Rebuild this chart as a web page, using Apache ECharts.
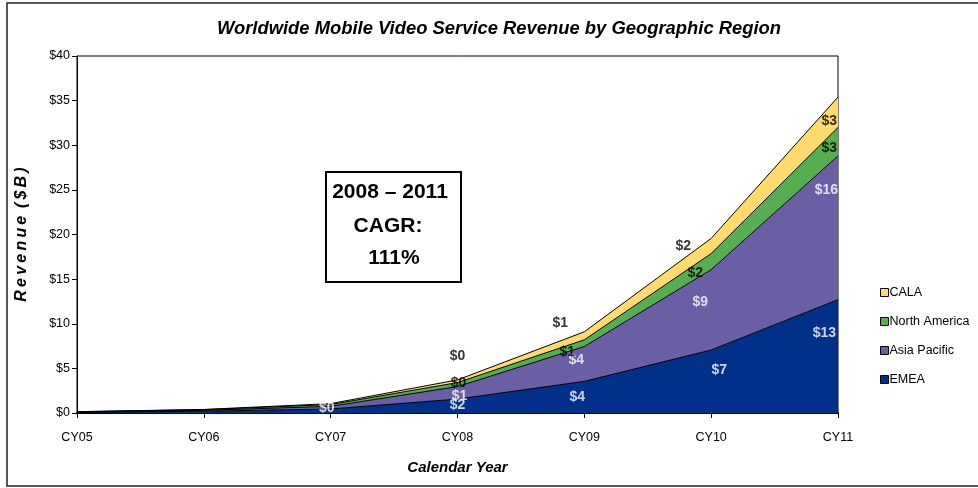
<!DOCTYPE html>
<html>
<head>
<meta charset="utf-8">
<script src="https://cdn.jsdelivr.net/npm/echarts@6/dist/echarts.min.js"></script>
<style>
  html, body { margin: 0; padding: 0; background: #fff; }
  #chart { width: 978px; height: 488px; }
</style>
</head>
<body>
<div id="chart"></div>
<script>
// revenue, $B
const categories = ['CY05', 'CY06', 'CY07', 'CY08', 'CY09', 'CY10', 'CY11']
const emea = [0.08, 0.2, 0.45, 1.56, 3.55, 7.06, 12.7]
const asiaPacific = [0.04, 0.1, 0.3, 1.4, 3.9, 9.0, 16.1]
const northAmerica = [0.02, 0.07, 0.2, 0.45, 0.75, 1.8, 3.2]
const cala = [0.01, 0.03, 0.1, 0.3, 0.9, 1.7, 3.4]
const yTicks = [0, 5, 10, 15, 20, 25, 30, 35, 40]

// label nudges [dx, dy] from band centre, null = no label
const emeaShift = [null, null, [-4, -3], [0, -1], [-7, 0], [8, -11], [-2, -23]]
const apShift = [null, null, null, [2, 3], [-8, -4], [-11, -8], [0, -38]]
const naShift = [null, null, null, [1, -1], [-17, 9], [-16, 12], [-1, 6]]
const calaShift = [null, null, null, [0, -25], [-24, -13], [-28, 0], [-1, 9]]

const FONT = "'Liberation Sans', Arial, sans-serif"

const layers = [
  { name: 'EMEA', data: emea, color: '#00308a', text: '#fff', shift: emeaShift },
  { name: 'Asia Pacific', data: asiaPacific, color: '#6a5ea4', text: '#fff', shift: apShift },
  { name: 'North America', data: northAmerica, color: '#55af50', text: '#000', shift: naShift },
  { name: 'CALA', data: cala, color: '#fedb6c', text: '#000', shift: calaShift },
]

const chart = echarts.init(document.getElementById('chart'))

const areaSeries = layers.map(l => ({
  name: l.name,
  type: 'line',
  stack: 'rev',
  data: l.data,
  symbol: 'none',
  lineStyle: { color: '#000', width: 1 },
  itemStyle: { color: l.color, borderColor: '#000' },
  areaStyle: { color: l.color, opacity: 1 },
  z: 2,
}))

// data labels sit in the middle of each band
const base = categories.map(() => 0)
const labelSeries = layers.map(l => {
  const pts = []
  l.data.forEach((v, i) => {
    const s = l.shift[i]
    const mid = base[i] + v / 2
    base[i] += v
    if (!s) return
    const last = i === categories.length - 1
    pts.push({
      value: [i, mid],
      raw: v,
      label: {
        offset: s,
        align: last ? 'right' : 'center',
      },
    })
  })
  return {
    type: 'scatter',
    data: pts,
    symbolSize: 0,
    clip: false,
    silent: true,
    z: 5,
    label: {
      show: true,
      position: 'inside',
      color: l.text,
      fontFamily: FONT,
      fontWeight: 'bold',
      fontSize: 14,
      formatter: p => '$' + Math.round(p.data.raw),
    },
  }
})

chart.setOption({
  animation: false,
  title: {
    text: 'Worldwide Mobile Video Service Revenue by Geographic Region',
    left: 494,
    textAlign: 'center',
    top: 15,
    textStyle: { fontFamily: FONT, fontSize: 18.4, fontWeight: 'bold', fontStyle: 'italic', color: '#000' },
  },
  grid: {
    left: 77, right: 140, top: 56, bottom: 75,
    show: true, borderColor: '#000', borderWidth: 1, backgroundColor: 'transparent',
  },
  legend: {
    orient: 'vertical',
    left: 875,
    top: 281,
    itemGap: 16,
    itemWidth: 8,
    itemHeight: 8,
    icon: 'rect',
    data: ['CALA', 'North America', 'Asia Pacific', 'EMEA'],
    itemStyle: { borderColor: '#000', borderWidth: 1 },
    textStyle: { fontFamily: FONT, fontSize: 12.5, color: '#000', padding: [0, 0, 0, -4] },
  },
  xAxis: {
    type: 'category',
    data: categories,
    boundaryGap: false,
    name: 'Calendar Year',
    nameLocation: 'middle',
    nameGap: 47,
    nameTextStyle: { fontFamily: FONT, fontSize: 15, fontWeight: 'bold', fontStyle: 'italic', color: '#000' },
    axisLine: { lineStyle: { color: '#000', width: 2 } },
    axisTick: { show: true, length: 5, lineStyle: { color: '#000' } },
    axisLabel: { fontFamily: FONT, fontSize: 12.5, color: '#000', margin: 18 },
    splitLine: { show: false },
  },
  yAxis: {
    type: 'value',
    min: 0,
    max: 40,
    interval: 5,
    name: 'R\u2009e\u2009v\u2009e\u2009n\u2009u\u2009e\u2009 (\u2009$\u2009B\u2009)',
    nameLocation: 'middle',
    nameGap: 47,
    nameTextStyle: { fontFamily: FONT, fontSize: 16, fontWeight: 'bold', fontStyle: 'italic', color: '#000' },
    axisLine: { show: true, lineStyle: { color: '#000', width: 1 } },
    axisTick: { show: true, length: 5, lineStyle: { color: '#000' } },
    axisLabel: {
      fontFamily: FONT, fontSize: 12.5, color: '#000', margin: 7,
      formatter: v => yTicks.includes(v) ? '$' + v : '',
    },
    splitLine: { show: false },
  },
  graphic: [
    {
      type: 'rect',
      shape: { x: 7, y: 3, width: 980, height: 483 },
      style: { fill: 'none', stroke: '#222', lineWidth: 1.5 },
      silent: true,
    },
    {
      type: 'rect',
      shape: { x: 326, y: 172, width: 135, height: 110 },
      style: { fill: '#fff', stroke: '#000', lineWidth: 2 },
      z: 10,
    },
    {
      type: 'text',
      x: 390, y: 192, z: 11,
      style: { text: '2008 – 2011', fill: '#000', font: "bold 21px 'Liberation Sans', Arial, sans-serif", align: 'center', verticalAlign: 'middle' },
    },
    {
      type: 'text',
      x: 388, y: 226, z: 11,
      style: { text: 'CAGR:', fill: '#000', font: "bold 21px 'Liberation Sans', Arial, sans-serif", align: 'center', verticalAlign: 'middle' },
    },
    {
      type: 'text',
      x: 394, y: 258, z: 11,
      style: { text: '111%', fill: '#000', font: "bold 21px 'Liberation Sans', Arial, sans-serif", align: 'center', verticalAlign: 'middle' },
    },
  ],
  series: [...areaSeries, ...labelSeries],
})
</script>
</body>
</html>
